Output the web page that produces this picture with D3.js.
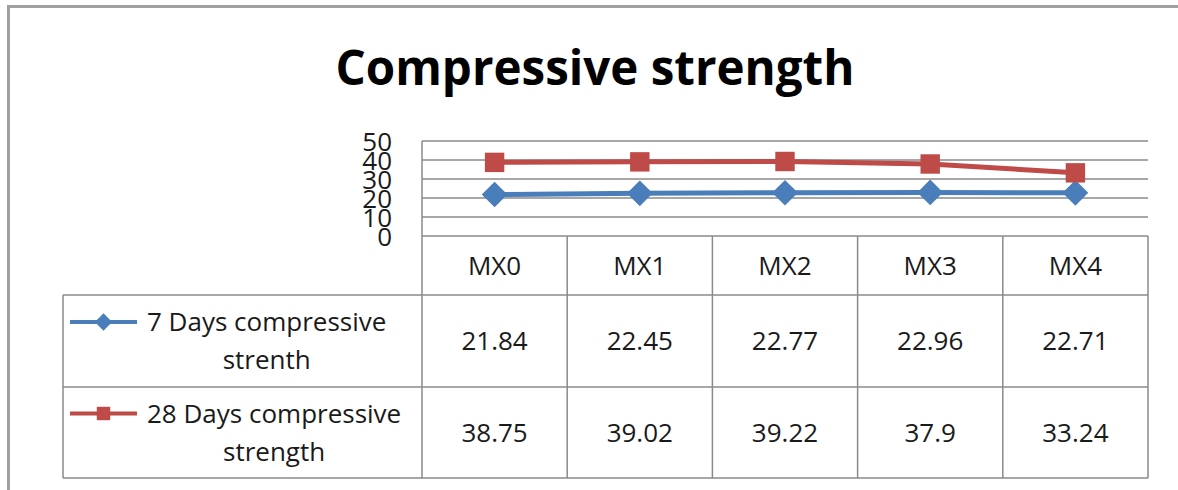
<!DOCTYPE html>
<html>
<head>
<meta charset="utf-8">
<script src="https://cdn.jsdelivr.net/npm/d3@7"></script>
<style>
  html, body { margin: 0; padding: 0; background: #fff; }
  svg { display: block; }
  text { font-family: "Open Sans", "Noto Sans", sans-serif; fill: #1a1a1a; }
</style>
</head>
<body>
<svg id="chart" width="1178" height="490"></svg>
<script>
// Mix designs and measured strengths (N/mm²)
const categories = ["MX0", "MX1", "MX2", "MX3", "MX4"];
const days7 = [21.84, 22.45, 22.77, 22.96, 22.71];
const days28 = [38.75, 39.02, 39.22, 37.9, 33.24];
const seriesNames = [["7 Days compressive", "strenth"], ["28 Days compressive", "strength"]];
const yTicks = [0, 10, 20, 30, 40, 50];

const series = [
  { name: seriesNames[0], values: days7, color: "#4a7ebb", shape: "diamond" },
  { name: seriesNames[1], values: days28, color: "#be4b48", shape: "square" }
];

const svg = d3.select("#chart");
const cellFont = 26;

// outer chart frame
svg.append("rect")
  .attr("x", 8.5).attr("y", 6.5).attr("width", 1180).attr("height", 500)
  .attr("fill", "#fff").attr("stroke", "#a0a0a0").attr("stroke-width", 3);

// title
svg.append("text")
  .attr("x", 595).attr("y", 85)
  .attr("text-anchor", "middle")
  .attr("font-size", 47.5).attr("font-weight", "bold")
  .style("fill", "#000")
  .text("Compressive strength");

const plotLeft = 422, plotRight = 1148, plotTop = 141, plotBottom = 236;
const x = d3.scaleBand().domain(categories).range([plotLeft, plotRight]);
const y = d3.scaleLinear().domain([0, 50]).range([plotBottom, plotTop]);

// horizontal gridlines
svg.append("g")
  .selectAll("line").data(yTicks.filter(d => d > 0)).join("line")
  .attr("x1", plotLeft).attr("x2", plotRight)
  .attr("y1", d => y(d)).attr("y2", d => y(d))
  .attr("stroke", "#8a8a8a").attr("stroke-width", 1.5);

// vertical axis line
svg.append("line")
  .attr("x1", plotLeft).attr("x2", plotLeft)
  .attr("y1", plotTop).attr("y2", plotBottom)
  .attr("stroke", "#8a8a8a").attr("stroke-width", 1.5);

// y axis labels (crowded, overlapping as drawn)
const yAxis = d3.axisLeft(y).tickValues(yTicks).tickSize(0).tickPadding(0);
const gy = svg.append("g").attr("transform", `translate(392,0)`).call(yAxis);
gy.select(".domain").remove();
gy.selectAll("text")
  .attr("font-size", 26)
  .attr("font-family", "Open Sans, sans-serif")
  .attr("dy", "0.36em")
  .style("fill", "#1a1a1a");

// data table grid
const rowTops = [236, 295, 387, 478];
const colEdges = categories.map(c => x(c)).concat([plotRight]);
const tableLeft = 63;
const grid = svg.append("g").attr("stroke", "#8a8a8a").attr("stroke-width", 1.5);
// horizontal rules
grid.append("line").attr("x1", plotLeft).attr("x2", plotRight).attr("y1", rowTops[0]).attr("y2", rowTops[0]);
rowTops.slice(1).forEach(yy => {
  grid.append("line").attr("x1", tableLeft).attr("x2", plotRight).attr("y1", yy).attr("y2", yy);
});
// vertical rules
colEdges.forEach(xx => {
  grid.append("line").attr("x1", xx).attr("x2", xx).attr("y1", rowTops[0]).attr("y2", rowTops[3]);
});
grid.append("line").attr("x1", tableLeft).attr("x2", tableLeft).attr("y1", rowTops[1]).attr("y2", rowTops[3]);

// header labels
svg.append("g").selectAll("text").data(categories).join("text")
  .attr("x", d => x(d) + x.bandwidth() / 2)
  .attr("y", (rowTops[0] + rowTops[1]) / 2)
  .attr("dy", "0.36em")
  .attr("text-anchor", "middle")
  .attr("font-size", cellFont)
  .text(d => d);

// value cells and row headers with legend keys
series.forEach((s, i) => {
  const cy = (rowTops[i + 1] + rowTops[i + 2]) / 2;
  svg.append("g").selectAll("text").data(s.values).join("text")
    .attr("x", (d, j) => x(categories[j]) + x.bandwidth() / 2)
    .attr("y", cy)
    .attr("dy", "0.36em")
    .attr("text-anchor", "middle")
    .attr("font-size", cellFont)
    .text(d => d);

  const kx = 70, kw = 67;
  const ky = cy - 19;
  svg.append("line")
    .attr("x1", kx).attr("x2", kx + kw).attr("y1", ky).attr("y2", ky)
    .attr("stroke", s.color).attr("stroke-width", 4);
  const sym = d3.symbol().type(s.shape === "diamond" ? d3.symbolDiamond2 : d3.symbolSquare2)
    .size(s.shape === "diamond" ? 190 : 230);
  svg.append("path")
    .attr("d", sym())
    .attr("transform", `translate(${kx + kw / 2},${ky})`)
    .attr("fill", s.color);
  const first = svg.append("text")
    .attr("x", kx + kw + 10).attr("y", ky).attr("dy", "0.36em")
    .attr("font-size", cellFont).text(s.name[0]);
  const bb = first.node().getBBox();
  svg.append("text")
    .attr("x", bb.x + bb.width / 2).attr("y", ky + 38).attr("dy", "0.36em")
    .attr("text-anchor", "middle")
    .attr("font-size", cellFont).text(s.name[1]);
});

// series lines and markers
const line = d3.line()
  .x((d, j) => x(categories[j]) + x.bandwidth() / 2)
  .y(d => y(d));

series.forEach(s => {
  svg.append("path")
    .datum(s.values)
    .attr("d", line)
    .attr("fill", "none")
    .attr("stroke", s.color)
    .attr("stroke-width", 5);
  const sym = d3.symbol().type(s.shape === "diamond" ? d3.symbolDiamond2 : d3.symbolSquare2)
    .size(s.shape === "diamond" ? 420 : 480);
  svg.append("g").selectAll("path").data(s.values).join("path")
    .attr("d", sym())
    .attr("transform", (d, j) => `translate(${x(categories[j]) + x.bandwidth() / 2},${y(d)})`)
    .attr("fill", s.color);
});
</script>
</body>
</html>
